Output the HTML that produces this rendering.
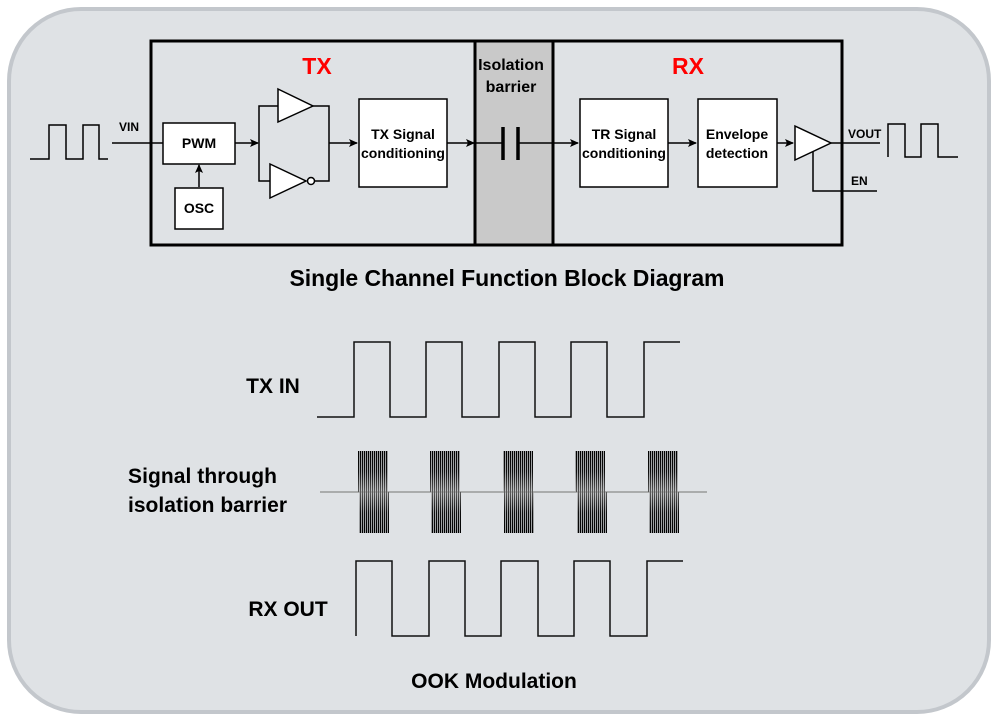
<!DOCTYPE html>
<html><head><meta charset="utf-8"><style>
html,body{margin:0;padding:0;background:#fff;}
svg{display:block;font-family:"Liberation Sans",Arial,sans-serif;}
</style></head><body>
<svg width="998" height="721" viewBox="0 0 998 721" xmlns="http://www.w3.org/2000/svg">
<defs>
<pattern id="st" width="2" height="10" patternUnits="userSpaceOnUse"><rect x="0" y="0" width="1.3" height="10" fill="#000"/></pattern>
<linearGradient id="gt" x1="0" y1="0" x2="0" y2="1"><stop offset="0" stop-color="#fff" stop-opacity="0"/><stop offset="0.5" stop-color="#fff" stop-opacity="0.05"/><stop offset="1" stop-color="#fff" stop-opacity="0.35"/></linearGradient>
<linearGradient id="gb" x1="0" y1="0" x2="0" y2="1"><stop offset="0" stop-color="#fff" stop-opacity="0.35"/><stop offset="0.5" stop-color="#fff" stop-opacity="0.05"/><stop offset="1" stop-color="#fff" stop-opacity="0"/></linearGradient>
<marker id="ar" markerWidth="10" markerHeight="10" refX="8" refY="4" orient="auto" markerUnits="userSpaceOnUse"><path d="M0,0 L9,4 L0,8 L2,4 z" fill="#000"/></marker>
</defs>
<rect x="0" y="0" width="998" height="721" fill="#fff"/>
<rect x="9" y="9" width="980" height="703" rx="72" fill="#dfe2e5" stroke="#c3c7cc" stroke-width="4"/>
<rect x="475" y="41" width="78" height="204" fill="#c9c9c9"/>
<rect x="151" y="41" width="691" height="204" fill="none" stroke="#000" stroke-width="3"/>
<line x1="475" y1="41" x2="475" y2="245" stroke="#000" stroke-width="3"/>
<line x1="553" y1="41" x2="553" y2="245" stroke="#000" stroke-width="3"/>
<text x="317" y="74" font-size="23" font-weight="bold" fill="#f00" text-anchor="middle">TX</text>
<text x="688" y="74" font-size="23" font-weight="bold" fill="#f00" text-anchor="middle">RX</text>
<text x="511" y="70" font-size="16" font-weight="bold" text-anchor="middle">Isolation</text>
<text x="511" y="92" font-size="16" font-weight="bold" text-anchor="middle">barrier</text>
<g stroke="#000" stroke-width="1.5" fill="none">
<polyline points="30,159 49,159 49,125 66,125 66,159 83,159 83,125 99,125 99,159 108,159"/>
<line x1="112" y1="143" x2="163" y2="143"/>
<line x1="235" y1="143" x2="258" y2="143" marker-end="url(#ar)"/>
<line x1="199" y1="187" x2="199" y2="165" marker-end="url(#ar)"/>
<polyline points="278,106 259,106 259,181 270,181"/>
<polyline points="313,106 329,106 329,181 315,181"/>
<line x1="329" y1="143" x2="357" y2="143" marker-end="url(#ar)"/>
<line x1="447" y1="143" x2="474" y2="143" marker-end="url(#ar)"/>
<line x1="476" y1="143" x2="503" y2="143"/>
<line x1="518" y1="143" x2="578" y2="143" marker-end="url(#ar)"/>
<line x1="668" y1="143" x2="696" y2="143" marker-end="url(#ar)"/>
<line x1="777" y1="143" x2="793" y2="143" marker-end="url(#ar)"/>
<line x1="831" y1="143" x2="880" y2="143"/>
<polyline points="813,151 813,191 877,191"/>
<polyline points="888,157 888,124 905,124 905,157 921,157 921,124 938,124 938,157 958,157"/>
</g>
<g stroke="#000" stroke-width="3.5"><line x1="503" y1="127" x2="503" y2="160"/><line x1="518" y1="127" x2="518" y2="160"/></g>
<g fill="#fff" stroke="#000" stroke-width="1.5">
<rect x="163" y="123" width="72" height="41"/>
<rect x="175" y="188" width="48" height="41"/>
<rect x="359" y="99" width="88" height="88"/>
<rect x="580" y="99" width="88" height="88"/>
<rect x="698" y="99" width="79" height="88"/>
<polygon points="278,89 313,106 278,122"/>
<polygon points="270,164 306,181 270,198"/>
<circle cx="311" cy="181" r="3.5"/>
<polygon points="795,126 831,143 795,160"/>
</g>
<g font-size="14" font-weight="bold" text-anchor="middle">
<text x="199" y="148">PWM</text>
<text x="199" y="213">OSC</text>
<text x="403" y="139">TX Signal</text>
<text x="403" y="158">conditioning</text>
<text x="624" y="139">TR Signal</text>
<text x="624" y="158">conditioning</text>
<text x="737" y="139">Envelope</text>
<text x="737" y="158">detection</text>
</g>
<g font-size="12" font-weight="bold">
<text x="119" y="131">VIN</text>
<text x="848" y="138">VOUT</text>
<text x="851" y="185">EN</text>
</g>
<text x="507" y="286" font-size="23" font-weight="bold" text-anchor="middle" textLength="435">Single Channel Function Block Diagram</text>
<text x="273" y="393" font-size="21" font-weight="bold" text-anchor="middle">TX IN</text>
<text x="128" y="483" font-size="21" font-weight="bold" textLength="149">Signal through</text>
<text x="128" y="512" font-size="21" font-weight="bold" textLength="159">isolation barrier</text>
<text x="288" y="616" font-size="21" font-weight="bold" text-anchor="middle">RX OUT</text>
<text x="494" y="688" font-size="21" font-weight="bold" text-anchor="middle">OOK Modulation</text>
<g stroke="#111" stroke-width="1.5" fill="none">
<polyline points="317,417 354,417 354,342 390,342 390,417 426,417 426,342 462,342 462,417 499,417 499,342 535,342 535,417 571,417 571,342 607,342 607,417 644,417 644,342 680,342"/>
<polyline points="356,636 356,561 392,561 392,636 429,636 429,561 465,561 465,636 501,636 501,561 538,561 538,636 574,636 574,561 610,561 610,636 647,636 647,561 683,561"/>
</g>
<line x1="320" y1="492" x2="707" y2="492" stroke="#999" stroke-width="1.5"/>
<g>
<rect x="358" y="451" width="30" height="41" fill="url(#st)"/><rect x="358" y="451" width="30" height="41" fill="url(#gt)"/>
<rect x="359" y="492" width="30" height="41" fill="url(#st)"/><rect x="359" y="492" width="30" height="41" fill="url(#gb)"/>
<rect x="430" y="451" width="30" height="41" fill="url(#st)"/><rect x="430" y="451" width="30" height="41" fill="url(#gt)"/>
<rect x="431" y="492" width="30" height="41" fill="url(#st)"/><rect x="431" y="492" width="30" height="41" fill="url(#gb)"/>
<rect x="503" y="451" width="30" height="41" fill="url(#st)"/><rect x="503" y="451" width="30" height="41" fill="url(#gt)"/>
<rect x="504" y="492" width="30" height="41" fill="url(#st)"/><rect x="504" y="492" width="30" height="41" fill="url(#gb)"/>
<rect x="575" y="451" width="30" height="41" fill="url(#st)"/><rect x="575" y="451" width="30" height="41" fill="url(#gt)"/>
<rect x="577" y="492" width="30" height="41" fill="url(#st)"/><rect x="577" y="492" width="30" height="41" fill="url(#gb)"/>
<rect x="648" y="451" width="30" height="41" fill="url(#st)"/><rect x="648" y="451" width="30" height="41" fill="url(#gt)"/>
<rect x="649" y="492" width="30" height="41" fill="url(#st)"/><rect x="649" y="492" width="30" height="41" fill="url(#gb)"/>
</g>
</svg>
</body></html>
